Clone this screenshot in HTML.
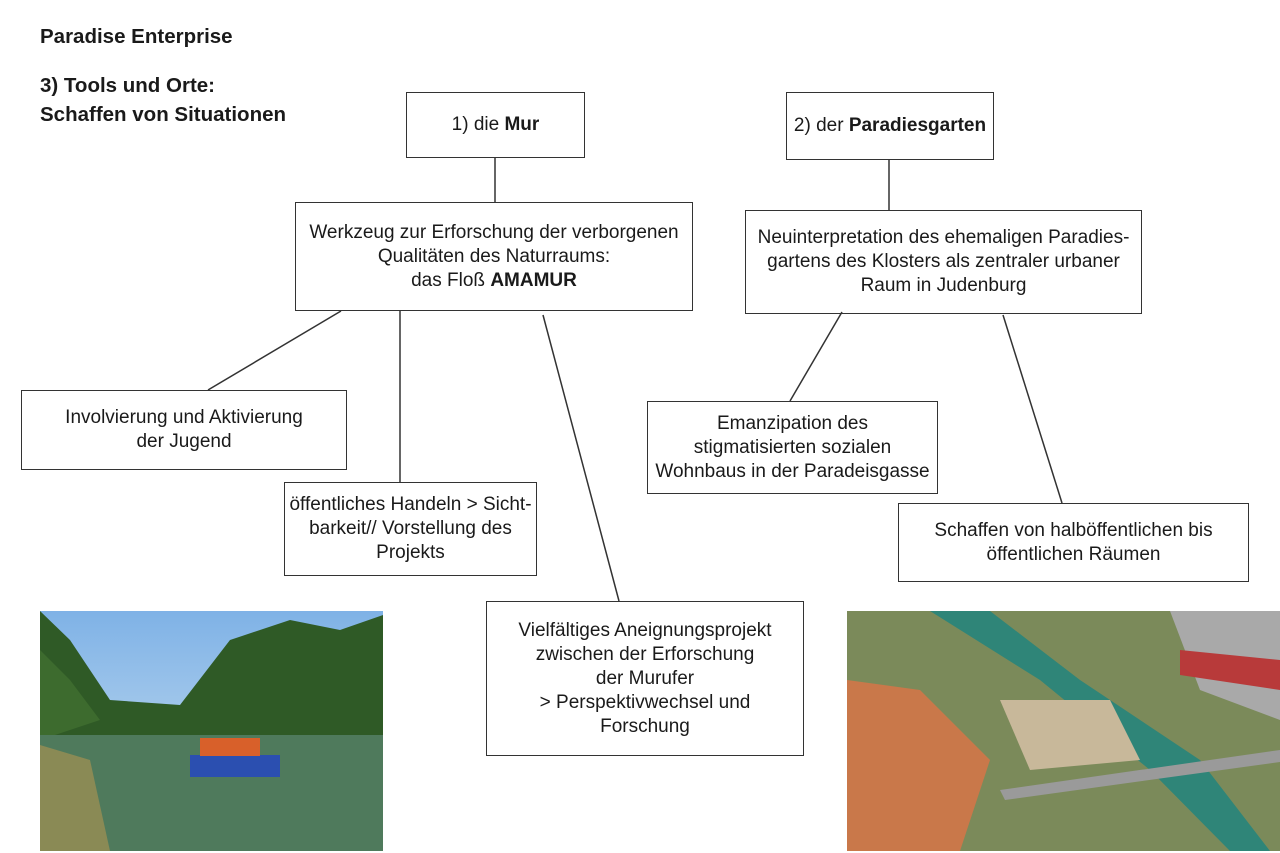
<!DOCTYPE html>
<html><head><meta charset="utf-8"><style>
body{margin:0;width:1280px;height:853px;background:#fff;position:relative;overflow:hidden;font-family:"Liberation Sans",sans-serif;color:#1a1a1a}
.b{position:absolute;border:1.5px solid #333;box-sizing:border-box;display:flex;align-items:center;justify-content:center;text-align:center;font-size:19px;line-height:24px}
.b>div{white-space:nowrap}
.t{position:absolute;font-weight:bold;font-size:20.5px;left:40px}
svg{position:absolute;left:0;top:0}
</style></head><body>
<div class="t" style="top:25px">Paradise Enterprise</div>
<div class="t" style="top:71px;line-height:29px">3) Tools und Orte:<br>Schaffen von Situationen</div>
<svg width="1280" height="853">
<g stroke="#333" stroke-width="1.5">
<line x1="495" y1="158" x2="495" y2="202"/>
<line x1="341" y1="311" x2="208" y2="390"/>
<line x1="400" y1="311" x2="400" y2="482"/>
<line x1="543" y1="315" x2="619" y2="601"/>
<line x1="889" y1="160" x2="889" y2="210"/>
<line x1="842" y1="312" x2="790" y2="401"/>
<line x1="1003" y1="315" x2="1062" y2="503"/>
</g>
<defs>
<linearGradient id="sky" x1="0" y1="0" x2="0" y2="1"><stop offset="0" stop-color="#7fb2e6"/><stop offset="1" stop-color="#cfe3f2"/></linearGradient>
</defs>
<rect x="40" y="611" width="343" height="240" fill="url(#sky)"/>
<path d="M40 611 L70 640 L110 700 L180 705 L230 640 L290 620 L340 630 L383 615 L383 745 L40 745Z" fill="#2f5a26"/>
<path d="M40 650 L70 680 L100 720 L40 740Z" fill="#3d6b2e"/>
<rect x="40" y="735" width="343" height="116" fill="#4f7a5c"/>
<path d="M40 745 L90 760 L110 851 L40 851Z" fill="#8a8a55"/>
<rect x="190" y="755" width="90" height="22" fill="#2b4fb0"/>
<rect x="200" y="738" width="60" height="18" fill="#d8602a"/>
<rect x="847" y="611" width="433" height="240" fill="#7b8a5a"/>
<path d="M930 611 L990 611 L1080 680 L1200 760 L1270 851 L1230 851 L1150 770 L1040 680 Z" fill="#2f8578"/>
<path d="M847 680 L920 690 L990 760 L960 851 L847 851Z" fill="#c9784a"/>
<path d="M1170 611 L1280 611 L1280 720 L1200 690Z" fill="#a9a9a9"/>
<path d="M1180 650 L1280 660 L1280 690 L1180 675Z" fill="#b83a3a"/>
<path d="M1000 790 L1280 750 L1280 762 L1005 800Z" fill="#9a9a9a"/>
<path d="M1000 700 L1110 700 L1140 760 L1030 770Z" fill="#c8b89a"/>
</svg>
<div class="b" style="left:406px;top:92px;width:179px;height:66px"><div>1) die <b>Mur</b></div></div>
<div class="b" style="left:295px;top:202px;width:398px;height:109px"><div>Werkzeug zur Erforschung der verborgenen<br>Qualitäten des Naturraums:<br>das Floß <b>AMAMUR</b></div></div>
<div class="b" style="left:786px;top:92px;width:208px;height:68px"><div>2) der <b>Paradiesgarten</b></div></div>
<div class="b" style="left:745px;top:210px;width:397px;height:104px"><div>Neuinterpretation des ehemaligen Paradies-<br>gartens des Klosters als zentraler urbaner<br>Raum in Judenburg</div></div>
<div class="b" style="left:21px;top:390px;width:326px;height:80px"><div>Involvierung und Aktivierung<br>der Jugend</div></div>
<div class="b" style="left:284px;top:482px;width:253px;height:94px"><div>öffentliches Handeln &gt; Sicht-<br>barkeit// Vorstellung des<br>Projekts</div></div>
<div class="b" style="left:486px;top:601px;width:318px;height:155px"><div>Vielfältiges Aneignungsprojekt<br>zwischen der Erforschung<br>der Murufer<br>&gt; Perspektivwechsel und<br>Forschung</div></div>
<div class="b" style="left:647px;top:401px;width:291px;height:93px"><div>Emanzipation des<br>stigmatisierten sozialen<br>Wohnbaus in der Paradeisgasse</div></div>
<div class="b" style="left:898px;top:503px;width:351px;height:79px"><div>Schaffen von halböffentlichen bis<br>öffentlichen Räumen</div></div>
</body></html>
